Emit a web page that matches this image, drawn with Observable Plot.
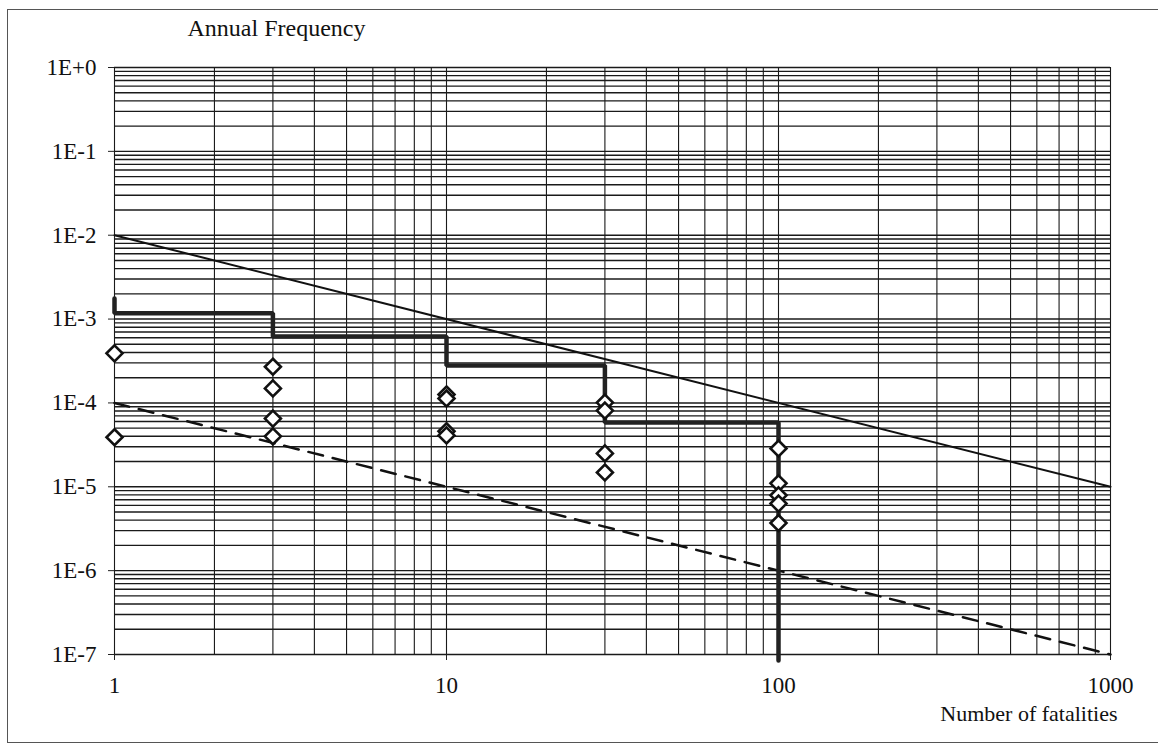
<!DOCTYPE html>
<html>
<head>
<meta charset="utf-8">
<script src="https://cdn.jsdelivr.net/npm/d3@7"></script>
<script src="https://cdn.jsdelivr.net/npm/@observablehq/plot@0.6"></script>
<style>
  html, body { margin: 0; padding: 0; background: #fff; overflow: hidden; }
  #wrap { position: relative; width: 1158px; height: 745px; }
  #border { position: absolute; left: 7px; top: 9px; width: 1200px; height: 732px;
            border: 1.5px solid #555; pointer-events: none; }
  svg { display: block; }
</style>
</head>
<body>
<div id="wrap"><div id="border"></div></div>
<script>
// ---- data ----
const xTicks = [1, 10, 100, 1000];
const xTickLabels = ["1", "10", "100", "1000"];
const yTicks = [1, 1e-1, 1e-2, 1e-3, 1e-4, 1e-5, 1e-6, 1e-7];
const yTickLabels = ["1E+0", "1E-1", "1E-2", "1E-3", "1E-4", "1E-5", "1E-6", "1E-7"];
const xGrid = [1,2,3,4,5,6,7,8,9,10,20,30,40,50,60,70,80,90,100,200,300,400,500,600,700,800,900,1000];
const yGrid = [
  1e-7,2e-7,3e-7,4e-7,5e-7,6e-7,7e-7,8e-7,9e-7,
  1e-6,2e-6,3e-6,4e-6,5e-6,6e-6,7e-6,8e-6,9e-6,
  1e-5,2e-5,3e-5,4e-5,5e-5,6e-5,7e-5,8e-5,9e-5,
  1e-4,2e-4,3e-4,4e-4,5e-4,6e-4,7e-4,8e-4,9e-4,
  1e-3,2e-3,3e-3,4e-3,5e-3,6e-3,7e-3,8e-3,9e-3,
  1e-2,2e-2,3e-2,4e-2,5e-2,6e-2,7e-2,8e-2,9e-2,
  1e-1,2e-1,3e-1,4e-1,5e-1,6e-1,7e-1,8e-1,9e-1,1
];
// criterion lines
const criterionN = [1, 1000];
const upperF = [1e-2, 1e-5];
const lowerF = [1e-4, 1e-7];
// cumulative F-N step curve
const stepN = [1, 1, 3, 10, 30, 100];
const stepF = [1.76e-3, 1.17e-3, 6.2e-4, 2.8e-4, 5.85e-5, 8.5e-8];
// individual points (diamonds)
const pointN = [1, 1, 3, 3, 3, 3, 10, 10, 10, 10, 30, 30, 30, 30, 100, 100, 100, 100, 100];
const pointF = [3.9e-4, 3.9e-5, 2.7e-4, 1.49e-4, 6.5e-5, 4.0e-5, 1.26e-4, 1.13e-4, 4.6e-5, 4.1e-5,
                1.01e-4, 8.1e-5, 2.5e-5, 1.48e-5, 2.86e-5, 1.1e-5, 7.9e-6, 6.3e-6, 3.7e-6];
const yLabel = "Annual Frequency";
const xLabel = "Number of fatalities";

// ---- build tables ----
const upper = criterionN.map((n, i) => ({n, f: upperF[i]}));
const lower = criterionN.map((n, i) => ({n, f: lowerF[i]}));
const step = stepN.map((n, i) => ({n, f: stepF[i]}));
const points = pointN.map((n, i) => ({n, f: pointF[i]}));

const chart = Plot.plot({
  width: 1158,
  height: 745,
  marginLeft: 114,
  marginRight: 48,
  marginTop: 67,
  marginBottom: 91,
  style: {fontFamily: "'Liberation Serif', 'Times New Roman', serif", fontSize: "23px", color: "#111", background: "transparent"},
  x: {type: "log", domain: [1, 1000], label: null},
  y: {type: "log", domain: [1e-7, 1], label: null},
  marks: [
    Plot.gridX(xGrid, {stroke: "#1a1a1a", strokeOpacity: 1, strokeWidth: 1.1}),
    Plot.gridY(yGrid, {stroke: "#1a1a1a", strokeOpacity: 1, strokeWidth: 1.4}),
    Plot.axisY({ticks: yTicks, tickFormat: d => yTickLabels[Math.round(-Math.log10(d))], tickSize: 6, tickPadding: 12, label: null, stroke: "#222", fontSize: 23}),
    Plot.axisX({ticks: xTicks, tickFormat: d => xTickLabels[Math.round(Math.log10(d))], tickSize: 6, tickPadding: 16, label: null, stroke: "#222", fontSize: 23}),
    Plot.line(upper, {x: "n", y: "f", stroke: "#111", strokeWidth: 2}),
    Plot.line(lower, {x: "n", y: "f", stroke: "#111", strokeWidth: 2.5, strokeDasharray: "15,10"}),
    Plot.line(step, {x: "n", y: "f", curve: "step-after", stroke: "#222", strokeWidth: 4.5, strokeLinejoin: "miter"}),
    Plot.dot(points, {x: "n", y: "f", symbol: "diamond2", r: 7.2, stroke: "#111", strokeWidth: 2.6, fill: "white"}),
    Plot.text([yLabel], {text: d => d, frameAnchor: "top-left", textAnchor: "start", lineAnchor: "middle", dx: 73, dy: -39, fontSize: 24, fill: "#111"}),
    Plot.text([xLabel], {text: d => d, frameAnchor: "bottom-right", textAnchor: "end", lineAnchor: "middle", dx: 7, dy: 59, fontSize: 22, fill: "#111"})
  ]
});
document.getElementById("wrap").appendChild(chart);
</script>
</body>
</html>
